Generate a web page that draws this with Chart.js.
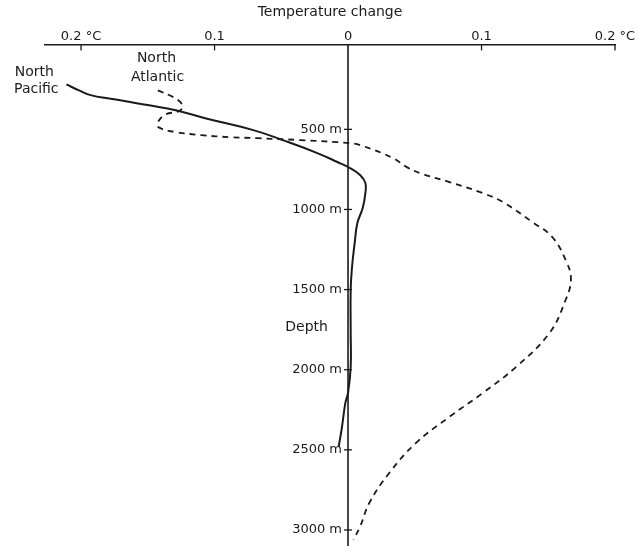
<!DOCTYPE html>
<html><head><meta charset="utf-8">
<script src="https://cdn.jsdelivr.net/npm/chart.js@4.4.0/dist/chart.umd.min.js"></script>
<style>html,body{margin:0;padding:0;background:#fff;}</style>
</head><body>
<canvas id="c" width="639" height="551"></canvas>
<script>
// ---- data ----
const pacificTemp  = [-0.211,-0.2015,-0.192,-0.179,-0.1665,-0.149,-0.129,-0.107,-0.071,-0.049,-0.023,-0.008,0.0015,0.009,0.013,0.013,0.011,0.007,0.005,0.003,0.002,0.002,0.002,0.0,-0.002,-0.0045,-0.007];
const pacificDepth = [219,257,288,307,325,350,381,431,505,567,648,704,742,785,835,898,991,1085,1209,1359,1502,1770,1982,2145,2207,2356,2481];

const atlanticTemp  = [-0.1425,-0.1306,-0.1254,-0.124,-0.127,-0.1366,-0.1425,-0.1418,-0.129,-0.110,-0.088,-0.068,-0.036,0.0015,0.009,0.034,0.044,0.056,0.076,0.101,0.116,0.138,0.153,0.163,0.167,0.163,0.151,0.126,0.101,0.076,0.051,0.031,0.016,0.009,0.004];
const atlanticDepth = [257,300,332,363,388,407,456,488,517,536,549,555,567,586,598,680,736,779,829,898,954,1078,1172,1315,1434,1565,1770,1982,2145,2294,2456,2643,2830,2980,3061];

const tempTicks      = [-0.2,-0.1,0,0.1,0.2];
const tempTickLabels = ['0.2 °C','0.1','0','0.1','0.2 °C'];
const depthTicks      = [500,1000,1500,2000,2500,3000];
const depthTickLabels = ['500 m','1000 m','1500 m','2000 m','2500 m','3000 m'];

const seriesNames = ['North Pacific','North Atlantic'];
const noteTexts  = ['North','Pacific','North','Atlantic','Depth'];
const noteTemps  = [-0.235,-0.2335,-0.1435,-0.1427,-0.031];
const noteDepths = [143,249,55,173,1733];

const ink = '#1a1a1a';
const FONT = "'DejaVu Sans', 'Liberation Sans', sans-serif";

function pts(xs, ys){ return xs.map((x,i)=>({x:x, y:ys[i]})); }

const depthAxisPlugin = {
  id: 'depthAxis',
  afterDatasetsDraw(chart){
    const ctx = chart.ctx, xs = chart.scales.x, ys = chart.scales.y, ca = chart.chartArea;
    const x0 = xs.getPixelForValue(0);
    ctx.save();
    ctx.strokeStyle = ink; ctx.lineWidth = 1.6;
    ctx.beginPath(); ctx.moveTo(x0, ca.top); ctx.lineTo(x0, ca.bottom); ctx.stroke();
    ctx.lineWidth = 1.3;
    // depth ticks (cross marks) and labels
    ctx.font = "13px " + FONT; ctx.fillStyle = ink;
    ctx.textAlign = 'right'; ctx.textBaseline = 'middle';
    ys.ticks.forEach(t => {
      const y = ys.getPixelForValue(t.value);
      ctx.beginPath(); ctx.moveTo(x0-4, y); ctx.lineTo(x0+4, y); ctx.stroke();
      ctx.fillText(depthTickLabels[depthTicks.indexOf(t.value)], x0-6, y);
    });
    // temperature ticks hanging below the top axis line
    xs.ticks.forEach(t => {
      if (t.value === 0) return;
      const x = xs.getPixelForValue(t.value);
      ctx.beginPath(); ctx.moveTo(x, ca.top); ctx.lineTo(x, ca.top+6); ctx.stroke();
    });
    // text notes
    ctx.font = "14px " + FONT; ctx.textAlign = 'center';
    noteTexts.forEach((s,i) => {
      ctx.fillText(s, xs.getPixelForValue(noteTemps[i]), ys.getPixelForValue(noteDepths[i]));
    });
    ctx.restore();
  }
};

new Chart(document.getElementById('c'), {
  type: 'scatter',
  data: {
    datasets: [
      { label: seriesNames[0], data: pts(pacificTemp, pacificDepth), showLine: true,
        borderColor: ink, borderWidth: 2, pointRadius: 0, tension: 0.45, fill: false },
      { label: seriesNames[1], data: pts(atlanticTemp, atlanticDepth), showLine: true,
        borderColor: ink, borderWidth: 1.8, borderDash: [6,5], pointRadius: 0, tension: 0.4, fill: false }
    ]
  },
  options: {
    responsive: false, animation: false, devicePixelRatio: 1,
    layout: { padding: { left: 45, right: 24, top: 0, bottom: 5 } },
    plugins: { legend: { display: false }, tooltip: { enabled: false } },
    scales: {
      x: {
        type: 'linear', position: 'top', min: -0.227, max: 0.2,
        afterBuildTicks: s => { s.ticks = tempTicks.map(v => ({ value: v })); },
        ticks: { autoSkip: false, maxRotation: 0, padding: 0, color: ink,
                 font: { family: FONT, size: 13 },
                 callback: v => tempTickLabels[tempTicks.indexOf(v)] },
        grid: { drawOnChartArea: false, drawTicks: false },
        border: { display: true, color: ink, width: 1.6 },
        title: { display: true, text: 'Temperature change', color: ink,
                 font: { family: FONT, size: 14 }, padding: { top: 4, bottom: 8 } }
      },
      y: {
        type: 'linear', reverse: true, min: -30, max: 3100, display: false,
        afterBuildTicks: s => { s.ticks = depthTicks.map(v => ({ value: v })); }
      }
    }
  },
  plugins: [depthAxisPlugin]
});
</script>
</body></html>
